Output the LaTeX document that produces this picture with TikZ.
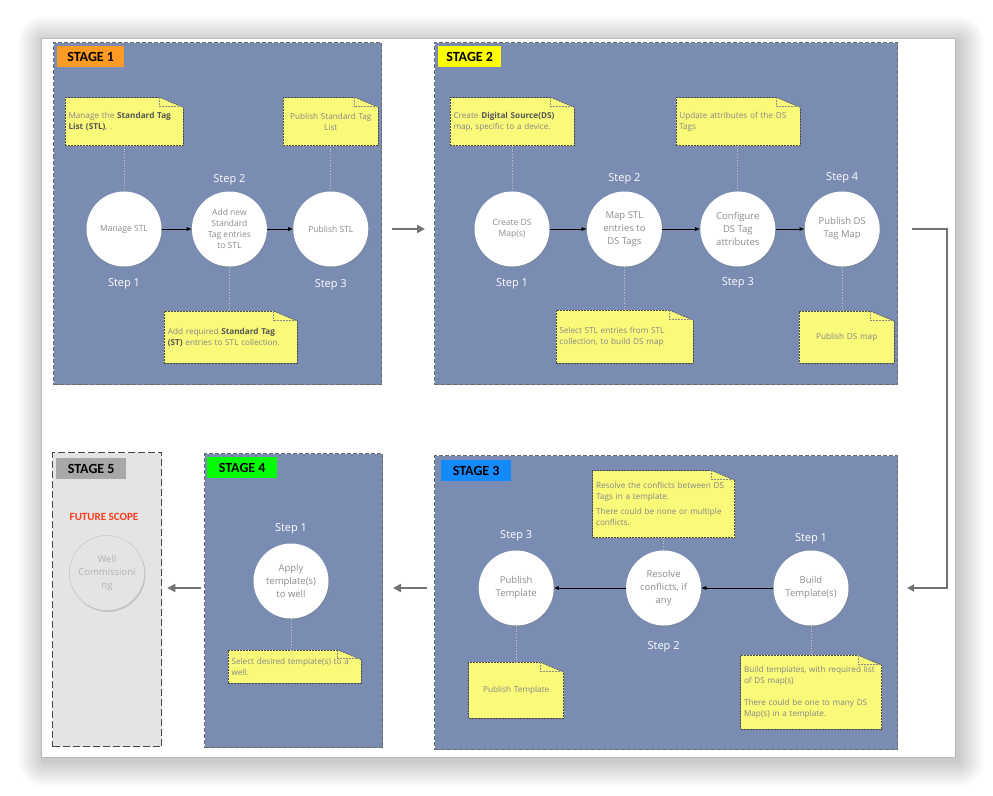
\documentclass[tikz,border=0pt]{standalone}
\usepackage{fontspec}
\setmainfont{Open Sans}
\newfontfamily\labelfont{Carlito}
\usepackage[usenames]{xcolor}
\usepackage{tikz}
\usetikzlibrary{arrows,arrows.meta,shapes,shadows}
\usetikzlibrary{positioning}

\definecolor{stageblue}{RGB}{122,140,177}
\definecolor{noteyellow}{RGB}{249,249,122}
\definecolor{stageorange}{RGB}{255,154,34}
\definecolor{stageyellow}{RGB}{255,255,0}
\definecolor{stagecyan}{RGB}{20,138,255}
\definecolor{stagegreen}{RGB}{0,255,0}
\definecolor{stagegray}{RGB}{168,168,168}
\definecolor{futurefill}{RGB}{228,228,228}
\definecolor{circletext}{RGB}{140,140,140}
\definecolor{notetext}{RGB}{135,135,135}
\definecolor{notebold}{RGB}{85,85,85}
\definecolor{futurered}{RGB}{255,58,30}
\newcommand{\tagbold}[1]{{\bfseries\color{notebold}#1}}

\begin{document}
\begin{tikzpicture}[x=1pt, y=-1pt, node distance=30pt]
\tikzstyle{stagebox} = [rectangle, draw=gray!85!black, dash pattern=on 4pt off 2pt, line width=1pt, fill=stageblue, inner sep=0pt, anchor=north west]
\tikzstyle{stagetag} = [rectangle, inner sep=0pt, minimum height=21pt, text=black, font=\labelfont\bfseries\fontsize{14}{14}\selectfont, anchor=north west]
\tikzstyle{stepcircle} = [circle, fill=white, minimum size=75pt, inner sep=0pt, align=center, text=circletext, font=\fontsize{9.5}{13}\selectfont, drop shadow={shadow xshift=1pt, shadow yshift=-1.5pt, opacity=0.3}]
\tikzstyle{smallcircle} = [stepcircle, font=\fontsize{8.5}{11}\selectfont]
\tikzstyle{steptext} = [text=white, font=\fontsize{11}{13}\selectfont, inner sep=0pt]
\tikzstyle{stickynote} = [rectangle, draw=black!70, dash pattern=on 2pt off 1pt, line width=0.5pt, fill=noteyellow, inner xsep=3.5pt, inner ysep=0pt, align=left, text=notetext, font=\fontsize{8.2}{11}\selectfont, drop shadow={shadow xshift=1pt, shadow yshift=-1.5pt, opacity=0.3}]
\tikzstyle{fold} = [draw=black!45, dash pattern=on 2pt off 1pt, line width=0.5pt]
\tikzstyle{tether} = [draw=gray!45, dotted, line width=0.8pt]
\tikzstyle{flow} = [-{Latex[length=5pt, width=4pt]}, line width=0.6pt]
\tikzstyle{bigflow} = [-{Triangle[length=8pt, width=8pt]}, draw=gray!90!black, line width=2.5pt]
\tikzstyle{loopflow} = [-{Triangle[length=7pt, width=7pt]}, draw=gray!90!black, line width=1.8pt]

\useasboundingbox (0,0) rectangle (993,795);
\foreach \r in {1,...,26}
  \fill[black, opacity=0.009, rounded corners=\r pt] (41-\r+3,38-\r+4) rectangle (955+\r+3,757+\r+4);
\path[draw=gray!55, line width=0.6pt, fill=white] (41,38) rectangle (955,757);

\node[stagebox, minimum width=328pt, minimum height=342pt] (st1) at (53,42) {};
\node[stagebox, minimum width=463pt, minimum height=342pt] (st2) at (434,42) {};
\node[stagebox, minimum width=463pt, minimum height=294pt] (st3) at (434,455) {};
\node[stagebox, minimum width=178pt, minimum height=294pt] (st4) at (204,453) {};
\node[stagebox, minimum width=109pt, minimum height=294pt, fill=futurefill, draw=gray!55!black, dash pattern=on 7pt off 3pt, line width=1.3pt] (st5) at (52,452) {};

\node[stagetag, fill=stageorange, minimum width=67pt] (tag1) at (57,46) {STAGE 1};
\node[stagetag, fill=stageyellow, minimum width=63pt] (tag2) at (438,46) {STAGE 2};
\node[stagetag, fill=stagecyan, minimum width=70pt] (tag3) at (441,460) {STAGE 3};
\node[stagetag, fill=stagegreen, minimum width=70pt] (tag4) at (207,457) {STAGE 4};
\node[stagetag, fill=stagegray, minimum width=70pt] (tag5) at (56,458) {STAGE 5};

\node[smallcircle] (manage) at (124,229) {Manage STL};
\node[smallcircle, right=30pt of manage] (addnew) {Add new\\Standard\\Tag entries\\to STL};
\node[smallcircle, right=26pt of addnew] (publish) {Publish STL};

\node[smallcircle] (createds) at (512,229) {Create DS\\Map(s)};
\node[stepcircle, right=37pt of createds] (mapstl) {Map STL\\entries to\\DS Tags};
\node[stepcircle, right=38pt of mapstl] (config) {Configure\\DS Tag\\attributes};
\node[stepcircle, right=29pt of config] (pubds) {Publish DS\\Tag Map};

\node[stepcircle] (build) at (811,588) {Build\\Template(s)};
\node[stepcircle, left=72pt of build] (resolve) {Resolve\\conflicts, if\\any};
\node[stepcircle, left=72pt of resolve] (pubtpl) {Publish\\Template};

\node[stepcircle] (apply) at (291,581) {Apply\\template(s)\\to well};

\node[stepcircle, fill=futurefill, draw=gray!50, text=gray!60] (wellc) at (107,573) {Well\\Commissioni\\ng};
\node[text=futurered, font=\labelfont\bfseries\fontsize{11}{13}\selectfont] (fscope) at (104,517) {FUTURE SCOPE};

\node[steptext, below=11.5pt of manage] (s1a) {Step 1};
\node[steptext, above=6pt of addnew] (s1b) {Step 2};
\node[steptext, below=13pt of publish] (s1c) {Step 3};
\node[steptext, below=11.5pt of createds] (s2a) {Step 1};
\node[steptext, above=7pt of mapstl] (s2b) {Step 2};
\node[steptext, below=10.5pt of config] (s2c) {Step 3};
\node[steptext, above=8pt of pubds] (s2d) {Step 4};
\node[steptext, above=6pt of build] (s3a) {Step 1};
\node[steptext, below=15.5pt of resolve] (s3b) {Step 2};
\node[steptext, above=9pt of pubtpl] (s3c) {Step 3};
\node[steptext, above=9pt of apply] (s4a) {Step 1};

\node[stickynote, text width=111pt, minimum height=48pt, above=45.5pt of manage] (n1a) {Manage the \tagbold{Standard Tag}\\\tagbold{List (STL)}, .};
\node[stickynote, text width=88pt, minimum height=48pt, align=center, above=45.5pt of publish] (n1b) {Publish Standard Tag\\List};
\node[stickynote, text width=126pt, minimum height=52pt, below=44.5pt of addnew, xshift=1.5pt] (n1c) {Add required \tagbold{Standard Tag}\\\tagbold{(ST)} entries to STL collection.};
\node[stickynote, text width=117pt, minimum height=48pt, above=45.5pt of createds] (n2a) {Create \tagbold{Digital Source(DS)}\\map, specific to a device.};
\node[stickynote, text width=117pt, minimum height=48pt, above=45.5pt of config] (n2b) {Update attributes of the DS\\Tags};
\node[stickynote, text width=130pt, minimum height=53pt, below=43.5pt of mapstl] (n2c) {Select STL entries from STL\\collection, to build DS map};
\node[stickynote, text width=88pt, minimum height=52pt, align=center, below=44.5pt of pubds, xshift=4.5pt] (n2d) {Publish DS map};
\node[stickynote, text width=135pt, minimum height=67pt, above=12.5pt of resolve] (n3a) {Resolve the conflicts between DS\\Tags in a template.\\[4pt]There could be none or multiple\\conflicts.};
\node[stickynote, text width=88pt, minimum height=56pt, align=center, below=36.5pt of pubtpl] (n3b) {Publish Template};
\node[stickynote, text width=134pt, minimum height=74pt, below=29.5pt of build] (n3c) {Build templates, with required list\\of DS map(s)\\[11pt]There could be one to many DS\\Map(s) in a template.};
\node[stickynote, text width=126pt, minimum height=33pt, below=31pt of apply, xshift=3.5pt] (n4a) {Select desired template(s) to a\\well.};

\foreach \n in {n1a,n1b,n1c,n2a,n2b,n2c,n2d,n3a,n3b,n3c,n4a} {
  \fill[stageblue] ([xshift=-24pt]\n.north east) -- ([xshift=2pt, yshift=1pt]\n.north east) -- ([xshift=2pt, yshift=-11pt]\n.north east) -- ([yshift=-10pt]\n.north east) -- cycle;
  \draw[draw=black!70, dash pattern=on 2pt off 1pt, line width=0.5pt] ([xshift=-24pt]\n.north east) -- ([yshift=-10pt]\n.north east);
  \draw[fold] ([xshift=-24pt]\n.north east) -- ([xshift=-24pt, yshift=-9pt]\n.north east) -- ([yshift=-9pt]\n.north east);
}

\draw[tether] (n1a) -- (manage);
\draw[tether] (n1b) -- (publish);
\draw[tether] (addnew) -- (addnew |- n1c.north);
\draw[tether] (n2a) -- (createds);
\draw[tether] (n2b) -- (config);
\draw[tether] (mapstl) -- (n2c);
\draw[tether] (pubds) -- (pubds |- n2d.north);
\draw[tether] (n3a) -- (resolve);
\draw[tether] (pubtpl) -- (n3b);
\draw[tether] (build) -- (n3c);
\draw[tether] (apply) -- (apply |- n4a.north);

\draw[flow] (manage) -- (addnew);
\draw[flow] (addnew) -- (publish);
\draw[flow] (createds) -- (mapstl);
\draw[flow] (mapstl) -- (config);
\draw[flow] (config) -- (pubds);
\draw[flow] (build) -- (resolve);
\draw[flow] (resolve) -- (pubtpl);

\draw[bigflow, shorten <=10pt, shorten >=9pt] (st1.east |- manage) -- (st2.west |- manage);
\draw[loopflow, shorten <=14pt, shorten >=9pt] (st2.east |- pubds) -- ++(49pt,0) |- (st3.east |- build);
\draw[bigflow, shorten <=7pt, shorten >=10pt] (st3.west |- build) -- (st4.east |- build);
\draw[bigflow, shorten <=3pt, shorten >=5pt] (st4.west |- build) -- (st5.east |- build);
\end{tikzpicture}
\end{document}
